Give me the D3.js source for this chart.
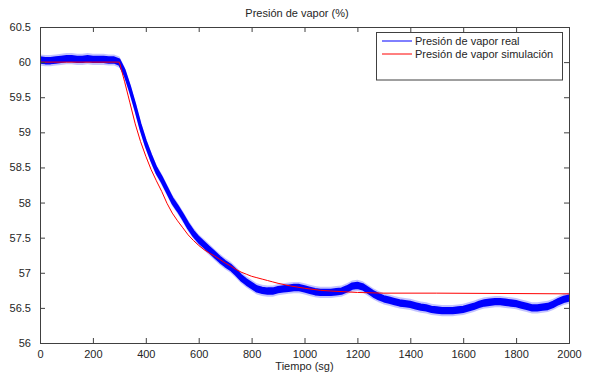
<!DOCTYPE html>
<html>
<head>
<meta charset="utf-8">
<script src="https://cdn.jsdelivr.net/npm/d3@7"></script>
<style>
  html, body { margin: 0; padding: 0; background: #fff; }
  svg { display: block; font-family: "Liberation Sans", Arial, sans-serif; }
</style>
</head>
<body>
<div id="chart"></div>
<script>
// Presión de vapor — real (noisy) vs simulación, MATLAB-style figure

// ---- data ----
const title = "Presión de vapor (%)";
const xLabel = "Tiempo (sg)";
const seriesNames = ["Presión de vapor real", "Presión de vapor simulación"];

const xTicks = [0, 200, 400, 600, 800, 1000, 1200, 1400, 1600, 1800, 2000];
const yTicks = [56, 56.5, 57, 57.5, 58, 58.5, 59, 59.5, 60, 60.5];
const yTickLabels = ["56", "56.5", "57", "57.5", "58", "58.5", "59", "59.5", "60", "60.5"];

// real signal: centre of the noisy band, one reading every 20 s
const realTime = d3.range(0, 2001, 20);
const realValues = [
  60.03, 60.02, 60.02, 60.03, 60.04, 60.05, 60.05, 60.04, 60.04, 60.05,
  60.04, 60.04, 60.04, 60.03, 60.03, 60.00, 59.85, 59.62, 59.36, 59.08,
  58.84, 58.64, 58.46, 58.33, 58.18, 58.03, 57.92, 57.80, 57.67, 57.56,
  57.47, 57.40, 57.33, 57.26, 57.19, 57.13, 57.08, 57.01, 56.93, 56.87,
  56.82, 56.77, 56.75, 56.74, 56.74, 56.76, 56.77, 56.78, 56.79, 56.79,
  56.77, 56.75, 56.73, 56.72, 56.72, 56.72, 56.73, 56.74, 56.77, 56.81,
  56.82, 56.80, 56.75, 56.70, 56.66, 56.63, 56.61, 56.59, 56.57, 56.56,
  56.55, 56.53, 56.51, 56.50, 56.48, 56.47, 56.46, 56.46, 56.46, 56.47,
  56.48, 56.50, 56.52, 56.55, 56.57, 56.58, 56.59, 56.59, 56.58, 56.57,
  56.56, 56.54, 56.52, 56.50, 56.50, 56.51, 56.52, 56.55, 56.59, 56.62,
  56.64
];
// half height of the noise band (core and spikes)
const realNoiseCore = 0.038;
const realNoiseSpike = 0.08;

// simulated response
const simTime = [0, 100, 200, 300, 320, 340, 360, 380, 400, 420, 440, 460, 480, 500,
  520, 540, 560, 580, 600, 620, 640, 660, 680, 700, 720, 740, 760, 780, 800,
  820, 840, 860, 880, 900, 950, 1000, 1060, 1100, 1150, 1200, 1300, 1500, 2000];
const simValues = [60.00, 60.00, 60.00, 60.00, 59.72, 59.42, 59.12, 58.87, 58.66, 58.47,
  58.31, 58.16, 57.99, 57.85, 57.74, 57.64, 57.54, 57.46, 57.39, 57.33, 57.28,
  57.24, 57.19, 57.14, 57.10, 57.05, 57.01, 56.98, 56.95, 56.93, 56.91, 56.89,
  56.87, 56.85, 56.81, 56.78, 56.75, 56.74, 56.73, 56.72, 56.71, 56.71, 56.70];

// ---- layout ----
const width = 592, height = 374;
const plot = {left: 40, right: 569, top: 27, bottom: 343};
const axisColor = "#404040";
const textColor = "#262626";
const realColor = "#0000ff";
const simColor = "#ff0000";

const svg = d3.select("#chart").append("svg")
  .attr("width", width).attr("height", height);

const x = d3.scaleLinear().domain([0, 2000]).range([plot.left, plot.right]);
const y = d3.scaleLinear().domain([56, 60.5]).range([plot.bottom, plot.top]);

const real = realTime.map((t, i) => ({t, v: realValues[i]}));
const sim = simTime.map((t, i) => ({t, v: simValues[i]}));

svg.append("clipPath").attr("id", "clip")
  .append("rect")
  .attr("x", plot.left).attr("y", plot.top)
  .attr("width", plot.right - plot.left).attr("height", plot.bottom - plot.top);

const data = svg.append("g").attr("clip-path", "url(#clip)");

// light fringe made by the noise spikes
data.append("path")
  .datum(real)
  .attr("fill", "#6a6aff")
  .attr("fill-opacity", 0.4)
  .attr("d", d3.area().x(d => x(d.t))
    .y0(d => y(d.v - realNoiseSpike)).y1(d => y(d.v + realNoiseSpike)));

// solid core of the band
data.append("path")
  .datum(real)
  .attr("fill", realColor)
  .attr("stroke", realColor)
  .attr("stroke-width", 2)
  .attr("stroke-linejoin", "round")
  .attr("d", d3.area().x(d => x(d.t))
    .y0(d => y(d.v - realNoiseCore)).y1(d => y(d.v + realNoiseCore)));

data.append("path")
  .datum(sim)
  .attr("fill", "none")
  .attr("stroke", simColor)
  .attr("stroke-width", 1)
  .attr("d", d3.line().x(d => x(d.t)).y(d => y(d.v)));

// ---- axes (ticks inside, box all round) ----
const tickLen = 5;
const bottomAx = svg.append("g")
  .attr("transform", `translate(0,${plot.bottom})`)
  .call(d3.axisBottom(x).tickValues(xTicks).tickSize(-tickLen).tickPadding(7).tickFormat(d3.format("d")));
const topAx = svg.append("g")
  .attr("transform", `translate(0,${plot.top})`)
  .call(d3.axisTop(x).tickValues(xTicks).tickSize(-tickLen).tickFormat(""));
const leftAx = svg.append("g")
  .attr("transform", `translate(${plot.left},0)`)
  .call(d3.axisLeft(y).tickValues(yTicks).tickSize(-tickLen).tickPadding(9)
    .tickFormat((d, i) => yTickLabels[i]));
const rightAx = svg.append("g")
  .attr("transform", `translate(${plot.right},0)`)
  .call(d3.axisRight(y).tickValues(yTicks).tickSize(-tickLen).tickFormat(""));

[bottomAx, topAx, leftAx, rightAx].forEach(a => {
  a.select(".domain").attr("stroke", axisColor);
  a.selectAll(".tick line").attr("stroke", axisColor);
  a.selectAll(".tick text").attr("fill", textColor).style("font-size", "11px");
});

// ---- titles ----
svg.append("text")
  .attr("x", 297).attr("y", 17)
  .attr("text-anchor", "middle")
  .attr("fill", textColor)
  .style("font-size", "11px")
  .text(title);

svg.append("text")
  .attr("x", (plot.left + plot.right) / 2).attr("y", 370)
  .attr("text-anchor", "middle")
  .attr("fill", textColor)
  .style("font-size", "11px")
  .text(xLabel);

// ---- legend ----
const lg = svg.append("g");
lg.append("rect")
  .attr("x", 376.5).attr("y", 32.5)
  .attr("width", 186).attr("height", 47.5)
  .attr("fill", "#fff").attr("stroke", axisColor);

const legendRows = [
  {name: seriesNames[0], color: realColor, y: 41},
  {name: seriesNames[1], color: simColor, y: 54}
];
legendRows.forEach(r => {
  lg.append("line")
    .attr("x1", 382).attr("x2", 412)
    .attr("y1", r.y).attr("y2", r.y)
    .attr("stroke", r.color).attr("stroke-width", 1);
  lg.append("text")
    .attr("x", 415).attr("y", r.y + 4)
    .attr("fill", textColor)
    .style("font-size", "11px")
    .text(r.name);
});
</script>
</body>
</html>
